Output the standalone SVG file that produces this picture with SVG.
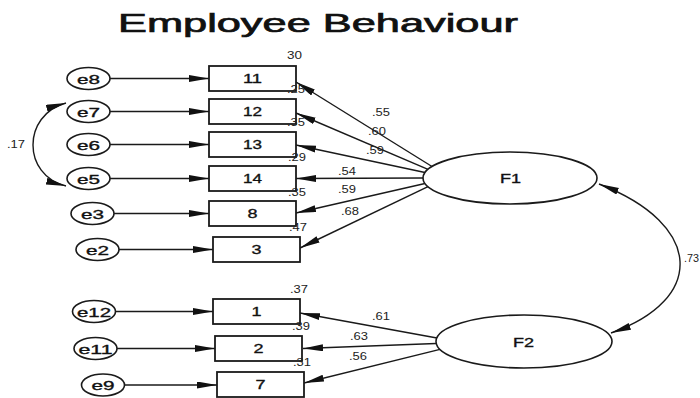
<svg xmlns="http://www.w3.org/2000/svg" width="700" height="398" viewBox="0 0 700 398">
  <style>
    .obs { fill: #fff; stroke: #1a1a1a; stroke-width: 1.8; }
    .lat { fill: #fff; stroke: #1a1a1a; stroke-width: 1.6; }
    .edge { fill: none; stroke: #1a1a1a; stroke-width: 1.4; }
    .t { font-family: "Liberation Sans", Arial, sans-serif; fill: #111; }
    .lbl { font-size: 13px; text-anchor: middle; stroke: #111; stroke-width: 0.35; }
    .err { font-size: 13px; text-anchor: middle; stroke: #111; stroke-width: 0.35; }
    .num { font-size: 10.5px; fill: #222; }
    .title { font-size: 25px; stroke: #111; stroke-width: 0.7; }
  </style>
  <defs>
    <marker id="ah" markerUnits="userSpaceOnUse" markerWidth="22" markerHeight="10" refX="20" refY="3.5" orient="auto-start-reverse">
      <path d="M0,0 L20,3.5 L0,7 Z" fill="#111"/>
    </marker>
  </defs>

  <text class="t title" x="118" y="32" textLength="400" lengthAdjust="spacingAndGlyphs">Employee Behaviour</text>

  <!-- connectors -->
  <g id="connectors">
    <!-- error terms to indicators -->
    <line class="edge" x1="110" y1="78.5" x2="209" y2="78.5" marker-end="url(#ah)"/>
    <line class="edge" x1="110" y1="111.5" x2="209" y2="111.5" marker-end="url(#ah)"/>
    <line class="edge" x1="110" y1="144.5" x2="209" y2="144.5" marker-end="url(#ah)"/>
    <line class="edge" x1="110" y1="178.5" x2="209" y2="178.5" marker-end="url(#ah)"/>
    <line class="edge" x1="114" y1="213.5" x2="209" y2="213.5" marker-end="url(#ah)"/>
    <line class="edge" x1="119" y1="249.5" x2="213" y2="249.5" marker-end="url(#ah)"/>
    <line class="edge" x1="115.5" y1="311.5" x2="213" y2="311.5" marker-end="url(#ah)"/>
    <line class="edge" x1="117" y1="348.5" x2="215" y2="348.5" marker-end="url(#ah)"/>
    <line class="edge" x1="124.5" y1="385" x2="217" y2="385" marker-end="url(#ah)"/>
    <!-- F1 loadings -->
    <line class="edge" x1="432" y1="166.5" x2="296" y2="82" marker-end="url(#ah)"/>
    <line class="edge" x1="428" y1="169.3" x2="296" y2="113" marker-end="url(#ah)"/>
    <line class="edge" x1="425" y1="172.5" x2="296" y2="145" marker-end="url(#ah)"/>
    <line class="edge" x1="423" y1="178" x2="296" y2="178.5" marker-end="url(#ah)"/>
    <line class="edge" x1="425" y1="183.5" x2="296" y2="213" marker-end="url(#ah)"/>
    <line class="edge" x1="428" y1="186.7" x2="300" y2="248" marker-end="url(#ah)"/>
    <!-- F2 loadings -->
    <line class="edge" x1="437" y1="338" x2="300" y2="313" marker-end="url(#ah)"/>
    <line class="edge" x1="436" y1="343.5" x2="303" y2="348.5" marker-end="url(#ah)"/>
    <line class="edge" x1="440" y1="349.4" x2="304" y2="383" marker-end="url(#ah)"/>
    <!-- covariances -->
    <path class="edge" d="M66,103 C22,115 22,175 66,186" marker-start="url(#ah)" marker-end="url(#ah)"/>
    <path class="edge" d="M599,184 C705,225 705,300 611,333" marker-start="url(#ah)" marker-end="url(#ah)"/>
  </g>

  <!-- error terms -->
  <g id="e8"><ellipse class="lat" cx="88.5" cy="78.5" rx="21.5" ry="11"/><text class="t err" x="88.5" y="83.5" textLength="23" lengthAdjust="spacingAndGlyphs">e8</text></g>
  <g id="e7"><ellipse class="lat" cx="88.5" cy="111.5" rx="21.5" ry="11"/><text class="t err" x="88.5" y="116.5" textLength="23" lengthAdjust="spacingAndGlyphs">e7</text></g>
  <g id="e6"><ellipse class="lat" cx="88.5" cy="144.5" rx="21.5" ry="11"/><text class="t err" x="88.5" y="149.5" textLength="23" lengthAdjust="spacingAndGlyphs">e6</text></g>
  <g id="e5"><ellipse class="lat" cx="88.5" cy="178.5" rx="21.5" ry="11"/><text class="t err" x="88.5" y="183.5" textLength="23" lengthAdjust="spacingAndGlyphs">e5</text></g>
  <g id="e3"><ellipse class="lat" cx="92.5" cy="213.5" rx="21.5" ry="11"/><text class="t err" x="92.5" y="218.5" textLength="23" lengthAdjust="spacingAndGlyphs">e3</text></g>
  <g id="e2"><ellipse class="lat" cx="97.5" cy="249.5" rx="21.5" ry="11"/><text class="t err" x="97.5" y="254.5" textLength="23" lengthAdjust="spacingAndGlyphs">e2</text></g>
  <g id="e12"><ellipse class="lat" cx="94" cy="311.5" rx="21.5" ry="11"/><text class="t err" x="94" y="316.5" textLength="34" lengthAdjust="spacingAndGlyphs">e12</text></g>
  <g id="e11"><ellipse class="lat" cx="95.5" cy="348.5" rx="21.5" ry="11"/><text class="t err" x="95.5" y="353.5" textLength="34" lengthAdjust="spacingAndGlyphs">e11</text></g>
  <g id="e9"><ellipse class="lat" cx="103" cy="385" rx="21.5" ry="11"/><text class="t err" x="103" y="390" textLength="23" lengthAdjust="spacingAndGlyphs">e9</text></g>

  <!-- indicators -->
  <g id="v11"><rect class="obs" x="209" y="66" width="87" height="25"/><text class="t lbl" x="252.5" y="83" textLength="19" lengthAdjust="spacingAndGlyphs">11</text></g>
  <g id="v12"><rect class="obs" x="209" y="99" width="87" height="25"/><text class="t lbl" x="252.5" y="116" textLength="19" lengthAdjust="spacingAndGlyphs">12</text></g>
  <g id="v13"><rect class="obs" x="209" y="132" width="87" height="25"/><text class="t lbl" x="252.5" y="149" textLength="19" lengthAdjust="spacingAndGlyphs">13</text></g>
  <g id="v14"><rect class="obs" x="209" y="166" width="87" height="25"/><text class="t lbl" x="252.5" y="183" textLength="19" lengthAdjust="spacingAndGlyphs">14</text></g>
  <g id="v8"><rect class="obs" x="209" y="201" width="87" height="25"/><text class="t lbl" x="252.5" y="218" textLength="10" lengthAdjust="spacingAndGlyphs">8</text></g>
  <g id="v3"><rect class="obs" x="213" y="237" width="87" height="25"/><text class="t lbl" x="256.5" y="254" textLength="10" lengthAdjust="spacingAndGlyphs">3</text></g>
  <g id="v1"><rect class="obs" x="213" y="299" width="87" height="25"/><text class="t lbl" x="256.5" y="316" textLength="10" lengthAdjust="spacingAndGlyphs">1</text></g>
  <g id="v2"><rect class="obs" x="215" y="336" width="87" height="25"/><text class="t lbl" x="258.5" y="353" textLength="10" lengthAdjust="spacingAndGlyphs">2</text></g>
  <g id="v7"><rect class="obs" x="217" y="372" width="87" height="25"/><text class="t lbl" x="260.5" y="389" textLength="10" lengthAdjust="spacingAndGlyphs">7</text></g>

  <!-- factors -->
  <g id="F1"><ellipse class="lat" cx="510" cy="178" rx="87" ry="26"/><text class="t lbl" x="510.5" y="183" textLength="21" lengthAdjust="spacingAndGlyphs">F1</text></g>
  <g id="F2"><ellipse class="lat" cx="524" cy="341.5" rx="88" ry="26.5"/><text class="t lbl" x="523.5" y="347" textLength="21" lengthAdjust="spacingAndGlyphs">F2</text></g>

  <!-- squared multiple correlations -->
  <g id="r2">
    <text class="t num" x="287" y="59" textLength="15" lengthAdjust="spacingAndGlyphs">30</text>
    <text class="t num" x="287" y="93" textLength="18" lengthAdjust="spacingAndGlyphs">.25</text>
    <text class="t num" x="287" y="126" textLength="18" lengthAdjust="spacingAndGlyphs">.35</text>
    <text class="t num" x="288" y="161" textLength="18" lengthAdjust="spacingAndGlyphs">.29</text>
    <text class="t num" x="288" y="196" textLength="18" lengthAdjust="spacingAndGlyphs">.35</text>
    <text class="t num" x="289" y="231" textLength="18" lengthAdjust="spacingAndGlyphs">.47</text>
    <text class="t num" x="290" y="293" textLength="18" lengthAdjust="spacingAndGlyphs">.37</text>
    <text class="t num" x="292" y="330" textLength="18" lengthAdjust="spacingAndGlyphs">.39</text>
    <text class="t num" x="293" y="366" textLength="18" lengthAdjust="spacingAndGlyphs">.31</text>
  </g>

  <!-- loadings and covariances -->
  <g id="weights">
    <text class="t num" x="372" y="116" textLength="18" lengthAdjust="spacingAndGlyphs">.55</text>
    <text class="t num" x="368" y="135" textLength="18" lengthAdjust="spacingAndGlyphs">.60</text>
    <text class="t num" x="366" y="154" textLength="18" lengthAdjust="spacingAndGlyphs">.59</text>
    <text class="t num" x="338" y="175" textLength="18" lengthAdjust="spacingAndGlyphs">.54</text>
    <text class="t num" x="338" y="193" textLength="18" lengthAdjust="spacingAndGlyphs">.59</text>
    <text class="t num" x="341" y="215" textLength="18" lengthAdjust="spacingAndGlyphs">.68</text>
    <text class="t num" x="372" y="320" textLength="18" lengthAdjust="spacingAndGlyphs">.61</text>
    <text class="t num" x="350" y="340" textLength="18" lengthAdjust="spacingAndGlyphs">.63</text>
    <text class="t num" x="349" y="360" textLength="18" lengthAdjust="spacingAndGlyphs">.56</text>
    <text class="t num" x="7" y="148" textLength="18" lengthAdjust="spacingAndGlyphs">.17</text>
    <text class="t num" x="684" y="262" textLength="15" lengthAdjust="spacingAndGlyphs">.73</text>
  </g>
</svg>
